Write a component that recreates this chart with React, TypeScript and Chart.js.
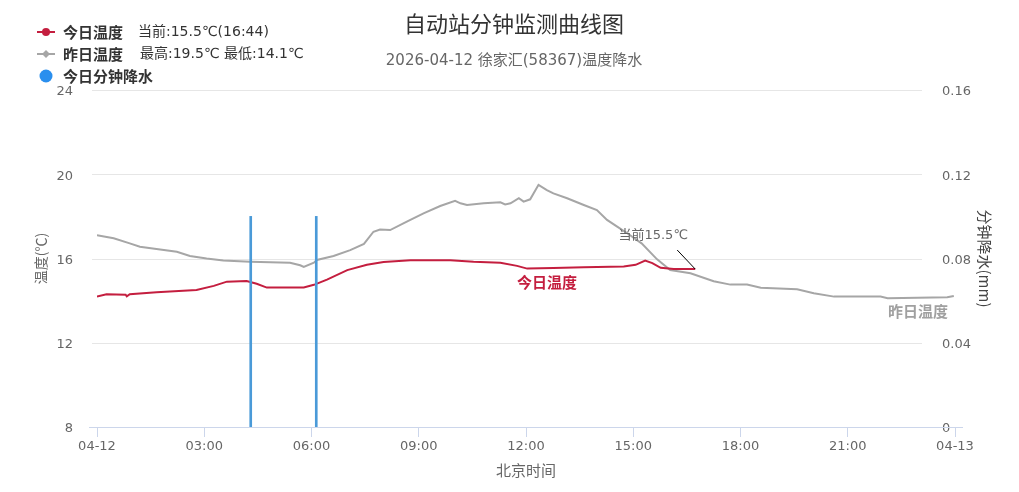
import React, { useEffect, useRef } from "react";
import { Chart, registerables } from "chart.js";

Chart.register(...registerables);

const FONT = '"Noto Sans CJK SC", "Noto Sans", sans-serif';
const MIX = '"DejaVu Sans", "Noto Sans CJK SC", sans-serif';

const chartTitle = "自动站分钟监测曲线图";
const chartSubtitle = "2026-04-12 徐家汇(58367)温度降水";

const xTickLabels = ["04-12", "03:00", "06:00", "09:00", "12:00", "15:00", "18:00", "21:00", "04-13"];

const todayTimes = [
  "00:00", "00:16", "00:48", "00:50", "00:55", "01:40", "02:47", "03:16", "03:38", "04:11",
  "04:28", "04:45", "05:47", "06:04", "06:26", "07:00", "07:33", "08:01", "08:46", "09:53",
  "10:32", "11:17", "11:45", "12:02", "12:46", "13:37", "14:44", "15:04", "15:20", "15:32",
  "15:46", "16:08", "16:44",
];
const todayTemps = [
  14.2, 14.3, 14.28, 14.2, 14.3, 14.4, 14.5, 14.7, 14.9, 14.93,
  14.8, 14.62, 14.62, 14.75, 15.0, 15.45, 15.7, 15.83, 15.92, 15.92,
  15.85, 15.8, 15.65, 15.52, 15.55, 15.58, 15.62, 15.7, 15.9, 15.78,
  15.56, 15.5, 15.5,
];

const yesterdayTimes = [
  "00:00", "00:28", "00:55", "01:12", "01:46", "02:14", "02:36", "03:04", "03:32", "04:17",
  "05:24", "05:41", "05:47", "06:04", "06:09", "06:37", "07:05", "07:28", "07:44", "07:55",
  "08:12", "08:40", "09:08", "09:36", "10:01", "10:10", "10:21", "10:49", "11:17", "11:25",
  "11:34", "11:48", "11:56", "12:07", "12:21", "12:35", "12:46", "13:09", "13:37", "13:59",
  "14:16", "14:33", "14:50", "15:14", "15:40", "16:02", "16:36", "17:15", "17:43", "18:11",
  "18:34", "19:35", "20:03", "20:37", "21:55", "22:07", "23:47", "23:58",
];
const yesterdayTemps = [
  17.11, 16.96, 16.72, 16.56, 16.43, 16.32, 16.12, 16.0, 15.9, 15.85,
  15.8, 15.68, 15.6, 15.8, 15.93, 16.12, 16.4, 16.69, 17.27, 17.38,
  17.35, 17.75, 18.14, 18.49, 18.74, 18.62, 18.54, 18.62, 18.67, 18.57,
  18.62, 18.86, 18.7, 18.81, 19.5, 19.25, 19.09, 18.86, 18.54, 18.3,
  17.83, 17.51, 17.2, 16.72, 15.96, 15.45, 15.3, 14.92, 14.76, 14.77,
  14.61, 14.54, 14.35, 14.19, 14.19, 14.11, 14.16, 14.22,
];

const rainTimes = ["04:18", "06:08"];
const rainValues = [0.1, 0.1];
const rainTickLabels = ["0", "0.04", "0.08", "0.12", "0.16"];

const toMin = (t: string) => {
  const [h, m] = t.split(":").map(Number);
  return h * 60 + m;
};

const RED = "#c41e3f";
const GRAY = "#a6a6a6";
const BLUE = "#4a9ad8";

export default function App() {
  const ref = useRef<HTMLCanvasElement>(null);

  useEffect(() => {
    const canvas = ref.current!;
    const tickFont = { family: MIX, size: 13 };

    const mctx = document.createElement("canvas").getContext("2d")!;
    mctx.font = `13px ${MIX}`;
    const widest = Math.max(...rainTickLabels.map((s) => mctx.measureText(s).width));

    const overlay = {
      id: "overlay",
      beforeDatasetsDraw(chart: any) {
        const { ctx, scales } = chart;
        const y = scales.y;
        ctx.save();
        ctx.lineWidth = 1;
        ctx.strokeStyle = "#e6e6e6";
        y.ticks.forEach((t: any) => {
          if (t.value === y.min) return;
          const py = Math.round(y.getPixelForValue(t.value)) + 0.5;
          ctx.beginPath();
          ctx.moveTo(92, py);
          ctx.lineTo(922, py);
          ctx.stroke();
        });
        const by = Math.round(y.getPixelForValue(y.min)) + 0.5;
        ctx.strokeStyle = "#ccd6eb";
        ctx.beginPath();
        ctx.moveTo(89, by);
        ctx.lineTo(963, by);
        ctx.stroke();
        ctx.restore();
      },
      afterDraw(chart: any) {
        const { ctx, scales } = chart;
        ctx.save();
        ctx.textBaseline = "middle";
        ctx.textAlign = "center";
        ctx.fillStyle = "#333";
        ctx.font = `22px ${FONT}`;
        ctx.fillText(chartTitle, 514, 24);
        ctx.fillStyle = "#666";
        ctx.font = `15px ${MIX}`;
        ctx.fillText(chartSubtitle, 514, 61);

        // legend
        ctx.textAlign = "left";
        const rows = [32, 54, 76];
        ctx.strokeStyle = RED;
        ctx.lineWidth = 2;
        ctx.beginPath();
        ctx.moveTo(37, rows[0]);
        ctx.lineTo(55, rows[0]);
        ctx.stroke();
        ctx.fillStyle = RED;
        ctx.beginPath();
        ctx.arc(46, rows[0], 4, 0, Math.PI * 2);
        ctx.fill();
        ctx.strokeStyle = GRAY;
        ctx.beginPath();
        ctx.moveTo(37, rows[1]);
        ctx.lineTo(55, rows[1]);
        ctx.stroke();
        ctx.fillStyle = GRAY;
        ctx.beginPath();
        ctx.moveTo(46, rows[1] - 4);
        ctx.lineTo(50, rows[1]);
        ctx.lineTo(46, rows[1] + 4);
        ctx.lineTo(42, rows[1]);
        ctx.closePath();
        ctx.fill();
        ctx.fillStyle = "#2a8fee";
        ctx.beginPath();
        ctx.arc(46, rows[2], 6.5, 0, Math.PI * 2);
        ctx.fill();

        const lastT = todayTemps[todayTemps.length - 1];
        const lastTime = todayTimes[todayTimes.length - 1];
        const yMax = Math.max(...yesterdayTemps);
        const yMin = Math.min(...yesterdayTemps);
        ctx.fillStyle = "#333";
        ctx.font = `bold 15px ${FONT}`;
        ctx.fillText("今日温度", 63, rows[0]);
        ctx.fillText("昨日温度", 63, rows[1]);
        ctx.fillText("今日分钟降水", 63, rows[2]);
        ctx.font = `14px ${MIX}`;
        ctx.fillText(`当前:${lastT.toFixed(1)}℃(${lastTime})`, 138, rows[0]);
        ctx.fillText(`最高:${yMax.toFixed(1)}℃ 最低:${yMin.toFixed(1)}℃`, 140, rows[1]);

        // annotations
        const x = scales.x;
        const y = scales.y;
        ctx.textAlign = "center";
        ctx.font = `bold 15px ${FONT}`;
        ctx.fillStyle = RED;
        ctx.fillText("今日温度", 547, 282);
        ctx.fillStyle = "#a0a0a0";
        ctx.fillText("昨日温度", 918, 311);

        const px = x.getPixelForValue(toMin(lastTime));
        const py = y.getPixelForValue(lastT);
        ctx.strokeStyle = "#000";
        ctx.lineWidth = 1;
        ctx.beginPath();
        ctx.moveTo(px - 18, py - 19);
        ctx.lineTo(px, py);
        ctx.stroke();
        ctx.fillStyle = "#666";
        ctx.font = `13px ${MIX}`;
        ctx.fillText(`当前${lastT.toFixed(1)}℃`, px - 42, py - 33);
        ctx.restore();
      },
    };

    const chart = new Chart(canvas, {
      type: "line",
      data: {
        datasets: [
          {
            type: "bar",
            label: "今日分钟降水",
            data: rainTimes.map((t, i) => ({ x: toMin(t), y: rainValues[i] })),
            yAxisID: "y1",
            xAxisID: "x",
            backgroundColor: BLUE,
            barThickness: 2,
            order: 0,
          } as any,
          {
            label: "今日温度",
            data: todayTimes.map((t, i) => ({ x: toMin(t), y: todayTemps[i] })),
            yAxisID: "y",
            borderColor: RED,
            borderWidth: 2,
            pointRadius: 0,
            order: 1,
          },
          {
            label: "昨日温度",
            data: yesterdayTimes.map((t, i) => ({ x: toMin(t), y: yesterdayTemps[i] })),
            yAxisID: "y",
            borderColor: GRAY,
            borderWidth: 2,
            pointRadius: 0,
            order: 2,
          },
        ],
      },
      options: {
        responsive: false,
        animation: false,
        layout: { padding: { top: 90, left: 0, right: 0, bottom: 0 } },
        plugins: {
          legend: { display: false },
          tooltip: { enabled: false },
          title: { display: false },
        },
        scales: {
          x: {
            type: "linear",
            position: "bottom",
            min: 0,
            max: 1440,
            offset: false,
            ticks: {
              stepSize: 180,
              autoSkip: false,
              maxRotation: 0,
              padding: 2,
              color: "#666",
              font: tickFont,
              includeBounds: false,
              callback: (v: any) => xTickLabels[Math.round(Number(v) / 180)] ?? "",
            },
            grid: {
              display: true,
              drawOnChartArea: false,
              drawTicks: true,
              tickLength: 10,
              color: "#ccd6eb",
              offset: false,
            },
            border: { display: false },
            title: {
              display: true,
              text: "北京时间",
              color: "#666",
              font: { family: FONT, size: 15 },
              padding: { top: 0, bottom: 13 },
            },
            afterFit: (s: any) => {
              s.height = 65;
            },
          },
          y: {
            type: "linear",
            position: "left",
            min: 8,
            max: 24,
            ticks: { stepSize: 4, padding: 24, labelOffset: 2, color: "#666", font: tickFont },
            grid: { display: false, drawTicks: false },
            border: { display: false },
            title: {
              display: true,
              text: "温度(℃)",
              color: "#666",
              font: { family: FONT, size: 14 },
              padding: { top: 32, bottom: 0 },
            },
            afterFit: (s: any) => {
              s.width = 97;
            },
          },
          y1: {
            type: "linear",
            position: "right",
            min: 0,
            max: 0.16,
            ticks: {
              stepSize: 0.04,
              mirror: true,
              crossAlign: "far",
              padding: widest - 13,
              labelOffset: 2,
              color: "#666",
              font: tickFont,
              callback: (v: any) => rainTickLabels[Math.round(Number(v) / 0.04)] ?? "",
            },
            grid: { display: false },
            border: { display: false },
            title: {
              display: true,
              text: "分钟降水(mm)",
              color: "#444",
              font: { family: FONT, size: 15 },
              padding: { top: 25, bottom: 0 },
            },
            afterFit: (s: any) => {
              s.width = 64;
            },
          },
        },
      } as any,
      plugins: [overlay],
    });
    return () => chart.destroy();
  }, []);

  return (
    <div style={{ position: "fixed", left: 0, top: 0, width: 1019, height: 492, background: "#fff" }}>
      <canvas ref={ref} width={1019} height={492} />
    </div>
  );
}
